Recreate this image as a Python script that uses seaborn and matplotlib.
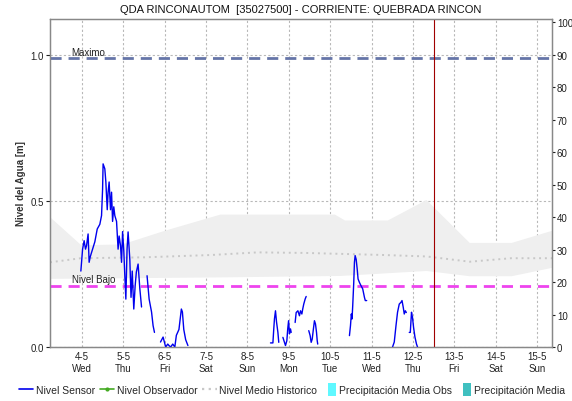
import numpy as np
import pandas as pd
import matplotlib
matplotlib.use("Agg")
import matplotlib.pyplot as plt
import matplotlib.dates as mdates
from matplotlib.lines import Line2D
from matplotlib.patches import Patch, Rectangle
from matplotlib.legend_handler import HandlerPatch
import seaborn as sns

# ---- data -------------------------------------------------------------
TITLE = "QDA RINCONAUTOM  [35027500] - CORRIENTE: QUEBRADA RINCON"
BASE = pd.Timestamp("2022-05-04 00:00")

# sensor water level [m]; hours counted from BASE, NaN marks a gap in the record
sensor_hours = [
    -0.6, 0.4, 1.3, 2.1, 2.7, 3.6, 4.2, 4.9, 6.2, 7.5, 8.9, 10.4, 11.4, 12.0, 12.3,
    13.3, 13.9, 14.7, 15.2, 15.8, 16.6, 17.2, 17.8, 18.5, 19.1, 20.1, 21.0, 21.6,
    22.4, 23.0, 23.6, 24.3, 24.9, 25.5, 26.2, 26.8, 27.8, 28.5, 29.2, 30.1, 30.9,
    31.6, 32.6, 33.6, 34.6, np.nan,
    37.8, 39.0, 40.4, 41.3, 42.1, np.nan,
    45.6, 47.1, 48.6, 49.8, 50.5, 51.5, 52.7, 53.9, 54.8, 56.3, 57.7, 58.3, 59.1,
    60.2, 61.5, np.nan,
    109.4, 110.8, 111.3, 111.7, 112.3, 112.9, 113.7, 114.2, np.nan,
    116.6, 117.5, 118.1, 118.9, 119.4, 119.9, 120.4, 121.0, 121.4, np.nan,
    123.7, 124.3, 125.3, 126.2, 126.8, 127.6, 128.1, 128.7, 129.5, 130.1, np.nan,
    131.6, 132.4, 133.0, 133.6, 134.3, 134.9, 135.5, 136.1, 136.5, 136.8, np.nan,
    155.2, 155.8, 156.3, 156.7, 157.1, 157.7, 158.1, 158.5, 159.1, 159.7, 160.2,
    161.0, 161.9, 162.9, 163.9, 164.4, 165.2, np.nan,
    180.2, 181.2, 182.2, 183.1, 184.1, 185.1, 185.7, 186.4, 187.0, 187.6, 188.2, np.nan,
    189.9, 190.5, 190.9, 191.2, 191.8, 192.4, 193.2, 194.1, 194.7,
]
sensor_level = [
    0.26, 0.335, 0.364, 0.335, 0.347, 0.387, 0.29, 0.31, 0.335, 0.36, 0.404, 0.42,
    0.45, 0.54, 0.627, 0.61, 0.565, 0.47, 0.53, 0.565, 0.47, 0.53, 0.43, 0.48, 0.45,
    0.43, 0.335, 0.38, 0.347, 0.29, 0.395, 0.33, 0.244, 0.164, 0.335, 0.394, 0.30,
    0.17, 0.26, 0.13, 0.21, 0.257, 0.284, 0.20, 0.137, np.nan,
    0.244, 0.164, 0.12, 0.073, 0.05, np.nan,
    0.017, 0.034, 0.0, 0.01, 0.005, 0.0, 0.01, 0.0, 0.04, 0.06, 0.13, 0.12, 0.06,
    0.025, 0.005, np.nan,
    0.014, 0.014, 0.062, 0.096, 0.124, 0.086, 0.05, 0.016, np.nan,
    0.033, 0.016, 0.005, 0.022, 0.062, 0.09, 0.045, 0.062, 0.05, np.nan,
    0.084, 0.118, 0.124, 0.107, 0.124, 0.113, 0.13, 0.147, 0.164, 0.173, np.nan,
    0.056, 0.039, 0.016, 0.027, 0.062, 0.09, 0.079, 0.05, 0.022, 0.01, np.nan,
    0.039, 0.073, 0.113, 0.096, 0.141, 0.221, 0.29, 0.313, 0.30, 0.267, 0.233,
    0.221, 0.21, 0.199, 0.17, 0.159, 0.159, np.nan,
    0.0, 0.017, 0.073, 0.119, 0.147, 0.153, 0.159, 0.136, 0.113, 0.124, 0.118, np.nan,
    0.05, 0.05, 0.09, 0.119, 0.10, 0.067, 0.034, 0.01, 0.0,
]

# historical envelope and mean [m]
band_upper_hours = [-18.5, -0.6, 23.2, 48.0, 80.0, 146.5, 152.3, 177.2, 199.6, 224.7, 249.0, 272.7]
band_upper = [0.445, 0.35, 0.353, 0.40, 0.455, 0.455, 0.435, 0.435, 0.505, 0.358, 0.358, 0.40]
band_lower_hours = [-18.5, 80.0, 150.0, 199.6, 224.7, 249.0, 272.7]
band_lower = [0.235, 0.24, 0.245, 0.262, 0.244, 0.244, 0.273]
mean_hours = [-18.5, -0.6, 36.0, 75.0, 102.0, 130.0, 175.0, 200.0, 225.0, 249.0, 272.7]
mean_level = [0.29, 0.304, 0.307, 0.315, 0.324, 0.322, 0.315, 0.31, 0.292, 0.304, 0.304]

# reference levels [m]
nivel_maximo = 0.99
nivel_bajo = 0.21
now_hours = 204.4
x_range_hours = [-18.5, 272.7]
y_top = 1.123
right_per_m = 90.0        # right-hand scale units per metre

legend_labels = ["Nivel Sensor", "Nivel Observador", "Nivel Medio Historico",
                 "Precipitación Media Obs", "Precipitación Media"]

# ---- frames -----------------------------------------------------------
def to_time(hours):
    return BASE + pd.to_timedelta(np.asarray(hours, dtype=float), unit="h")

sensor = pd.DataFrame({"t": to_time(sensor_hours), "nivel": sensor_level})
sensor["tramo"] = sensor["nivel"].isna().cumsum()
sensor = sensor.dropna()

mean_df = pd.DataFrame({"t": to_time(mean_hours), "nivel": mean_level})

# common time grid for the envelope
grid_h = np.union1d(band_upper_hours, band_lower_hours)
grid_t = to_time(grid_h)
up = np.interp(grid_h, band_upper_hours, band_upper)
lo = np.interp(grid_h, band_lower_hours, band_lower)

# ---- figure -----------------------------------------------------------
sns.set_theme(style="white")
plt.rcParams["font.family"] = ["Liberation Sans", "DejaVu Sans"]

fig = plt.figure(figsize=(5.72, 4.02), dpi=100)
ax = fig.add_axes([50 / 572, 1 - 348 / 402, 502 / 572, 328 / 402])

ax.fill_between(grid_t, lo, up, color="#efefef", lw=0, zorder=1)
sns.lineplot(data=mean_df, x="t", y="nivel", ax=ax, color="#c8c8c8",
             lw=1.4, linestyle=(0, (1, 2)), zorder=2)

ax.axhline(nivel_maximo, color="#6675a8", lw=2, ls=(0, (4, 2.5)), zorder=3)
ax.axhline(nivel_bajo, color="#ee44ee", lw=2, ls=(0, (4, 2.5)), zorder=3)

sns.lineplot(data=sensor, x="t", y="nivel", units="tramo", estimator=None,
             ax=ax, color="#0000ee", lw=1.0, zorder=4, sort=False)

ax.axvline(to_time([now_hours])[0], color="#a00000", lw=0.8, zorder=5)

x0, x1 = to_time(x_range_hours)
ax.set_xlim(x0, x1)
ax.set_ylim(0, y_top)

ax.text(to_time([-6.0])[0], nivel_maximo + 0.004, "Maximo", fontsize=7,
        color="#222222", va="bottom")
ax.text(to_time([-6.0])[0], nivel_bajo + 0.004, "Nivel Bajo", fontsize=7,
        color="#222222", va="bottom")

# axes styling
ax.set_yticks([0.0, 0.5, 1.0])
ax.set_yticklabels(["0.0", "0.5", "1.0"])
ax.xaxis.set_major_locator(mdates.DayLocator())
ax.xaxis.set_major_formatter(
    plt.FuncFormatter(lambda v, pos: (lambda d: f"{d.day}-{d.month}\n{d.strftime('%a')}")(mdates.num2date(v)))
)
ax.xaxis.set_minor_locator(mdates.HourLocator(interval=2))
ax.grid(True, which="major", color="#b8b8b8", ls=(0, (2, 2)), lw=0.8)
ax.tick_params(axis="x", which="major", length=0, labelsize=7, colors="#222222", pad=3)
ax.tick_params(axis="x", which="minor", length=2, width=0.6, color="#888888")
ax.tick_params(axis="y", which="major", length=3, width=0.8, labelsize=7,
               colors="#222222", left=True, pad=1.5)
for s in ax.spines.values():
    s.set_color("#888888")
    s.set_linewidth(0.9)
ax.set_xlabel("")
ax.set_ylabel("Nivel del Agua [m]", fontsize=7, fontweight="bold", color="#333333", labelpad=3)
ax.set_title(TITLE, fontsize=8, color="#111111", pad=5)

axr = ax.twinx()
axr.set_ylim(0, y_top * right_per_m)
axr.set_yticks(np.arange(0, 101, 10))
axr.tick_params(axis="y", length=2.5, width=0.8, labelsize=7, colors="#222222", right=True, pad=1)
for s in axr.spines.values():
    s.set_color("#888888")
    s.set_linewidth(0.9)
axr.grid(False)

# legend
class NarrowPatch(HandlerPatch):
    def create_artists(self, legend, orig_handle, xdescent, ydescent, width,
                       height, fontsize, trans):
        r = Rectangle((width - 6, -2), 6, height + 4,
                      facecolor=orig_handle.get_facecolor(), edgecolor="none",
                      transform=trans)
        return [r]

handles = [
    Line2D([], [], color="#0000ee", lw=1.2),
    Line2D([], [], color="#44aa22", lw=1.2, marker=".", markersize=4),
    Line2D([], [], color="#c8c8c8", lw=1.6, ls=(0, (1, 2))),
    Patch(facecolor="#5ff8ff"),
    Patch(facecolor="#40c0c0"),
]
fig.legend(handles, legend_labels, loc="center", bbox_to_anchor=(0.51, 1 - 391 / 402),
           ncol=5, frameon=False, fontsize=7.5, handlelength=1.4, handletextpad=0.25,
           columnspacing=0.45, borderaxespad=0, borderpad=0,
           handler_map={Patch: NarrowPatch()})

fig.savefig("out.png", dpi=100)
